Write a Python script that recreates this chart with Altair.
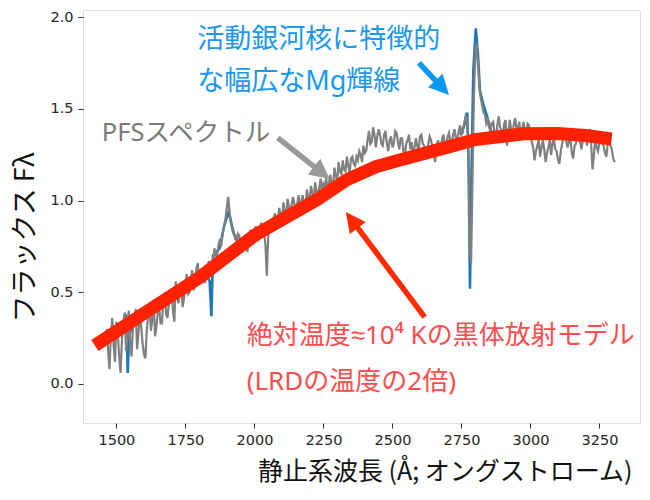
import math
import altair as alt
import pandas as pd

# PFS spectrum: rest-frame wavelength grid (Å) and flux
pfs_start, pfs_step = 1465, 5
pfs_flux = [
    0.30, 0.18, 0.08, 0.27, 0.36, 0.21, 0.12, 0.34, 0.28, 0.15, 0.06, 0.24, 0.33, 0.39, 0.18, 0.26, 0.40, 0.22, 0.15, 0.31,
    0.34, 0.41, 0.19, 0.28, 0.40, 0.31, 0.22, 0.16, 0.14, 0.29, 0.37, 0.43, 0.29, 0.35, 0.46, 0.26, 0.31, 0.39, 0.42, 0.33,
    0.33, 0.45, 0.50, 0.38, 0.36, 0.44, 0.47, 0.52, 0.40, 0.34, 0.56, 0.48, 0.44, 0.51, 0.53, 0.42, 0.47, 0.55, 0.60, 0.49,
    0.50, 0.58, 0.62, 0.51, 0.54, 0.63, 0.66, 0.57, 0.56, 0.61, 0.63, 0.55, 0.58, 0.64, 0.67, 0.60, 0.61, 0.66, 0.74, 0.70,
    0.70, 0.76, 0.79, 0.75, 0.82, 0.86, 0.90, 0.96, 1.02, 0.94, 0.88, 0.84, 0.83, 0.79, 0.78, 0.82, 0.81, 0.76, 0.74, 0.79,
    0.80, 0.75, 0.72, 0.81, 0.84, 0.78, 0.77, 0.83, 0.86, 0.80, 0.79, 0.85, 0.88, 0.81, 0.82, 0.76, 0.59, 0.80, 0.87, 0.90,
    0.84, 0.91, 0.93, 0.86, 0.89, 0.96, 0.92, 0.89, 0.99, 0.94, 0.92, 1.01, 0.97, 0.94, 0.98, 1.02, 0.98, 0.93, 0.98, 1.03,
    0.93, 1.00, 1.03, 0.97, 0.96, 1.06, 1.02, 0.99, 1.08, 1.04, 1.01, 1.10, 1.05, 1.03, 1.07, 1.12, 1.04, 1.09, 1.07, 1.13,
    1.04, 1.10, 1.14, 1.08, 1.09, 1.18, 1.13, 1.11, 1.21, 1.16, 1.14, 1.22, 1.17, 1.16, 1.24, 1.19, 1.15, 1.23, 1.24, 1.20,
    1.19, 1.24, 1.22, 1.27, 1.25, 1.21, 1.30, 1.26, 1.27, 1.33, 1.38, 1.31, 1.32, 1.40, 1.36, 1.29, 1.35, 1.39, 1.36, 1.31,
    1.30, 1.36, 1.38, 1.31, 1.27, 1.33, 1.35, 1.29, 1.31, 1.38, 1.37, 1.32, 1.28, 1.34, 1.34, 1.27, 1.25, 1.31, 1.33, 1.36,
    1.28, 1.32, 1.22, 1.29, 1.34, 1.30, 1.27, 1.35, 1.36, 1.31, 1.30, 1.26, 1.24, 1.31, 1.35, 1.33, 1.29, 1.25, 1.21, 1.30,
    1.33, 1.29, 1.26, 1.34, 1.36, 1.30, 1.29, 1.35, 1.37, 1.32, 1.31, 1.36, 1.39, 1.34, 1.33, 1.38, 1.41, 1.36, 1.37, 1.42,
    1.46, 1.44, 1.30, 0.78, 0.66, 1.10, 1.55, 1.78, 1.86, 1.74, 1.62, 1.56, 1.52, 1.48, 1.47, 1.42, 1.44, 1.40, 1.38, 1.42,
    1.43, 1.37, 1.34, 1.41, 1.46, 1.40, 1.38, 1.35, 1.42, 1.44, 1.30, 1.37, 1.44, 1.39, 1.36, 1.42, 1.45, 1.38, 1.40, 1.43,
    1.33, 1.38, 1.43, 1.36, 1.37, 1.42, 1.41, 1.35, 1.32, 1.29, 1.22, 1.27, 1.30, 1.33, 1.24, 1.29, 1.33, 1.28, 1.21, 1.26,
    1.29, 1.33, 1.25, 1.31, 1.34, 1.28, 1.27, 1.22, 1.20, 1.27, 1.31, 1.35, 1.37, 1.32, 1.29, 1.33, 1.34, 1.26, 1.23, 1.30,
    1.31, 1.36, 1.38, 1.32, 1.28, 1.33, 1.35, 1.39, 1.30, 1.36, 1.39, 1.31, 1.17, 1.25, 1.33, 1.29, 1.27, 1.32, 1.36, 1.31,
    1.30, 1.26, 1.24, 1.31, 1.35, 1.30, 1.28, 1.23, 1.21,
]
pfs_wave = [pfs_start + pfs_step * i for i in range(len(pfs_flux))]

# blue curve, only visible around the emission / absorption features
blue_seg = ["civ"] * 5 + ["ciii"] * 11 + ["mgii"] * 15
blue_wave = [1530, 1536, 1541, 1547, 1555,
             1825, 1838, 1844, 1850, 1862, 1874, 1890, 1907, 1925, 1943, 1955,
             2745, 2760, 2771, 2776, 2781, 2786, 2793, 2802, 2810, 2817,
             2830, 2841, 2850, 2859, 2870]
blue_flux = [0.30, 0.38, 0.06, 0.32, 0.28,
             0.60, 0.56, 0.37, 0.70, 0.72, 0.74, 0.86, 0.94, 0.82, 0.78, 0.79,
             1.36, 1.41, 1.48, 1.20, 0.52, 1.10, 1.70, 1.94, 1.80, 1.60,
             1.52, 1.47, 1.42, 1.37, 1.38]

# blackbody model (T ~ 1e4 K)
bb_wave = [1422, 1600, 1800, 2000, 2100, 2225, 2334, 2440, 2527, 2700,
           2800, 2974, 3100, 3200, 3294]
bb_flux = [0.21, 0.385, 0.58, 0.81, 0.896, 1.004, 1.113, 1.185, 1.222, 1.292,
           1.333, 1.365, 1.366, 1.355, 1.336]

# annotations
note_text = ["活動銀河核に特徴的", "な幅広なMg輝線", "PFSスペクトル",
             "絶対温度≈10⁴ Kの黒体放射モデル", "(LRDの温度の2倍)"]
note_x = [1793, 1793, 1447, 1972, 1972]
note_y = [1.879, 1.647, 1.369, 0.262, 0.011]
note_size = [27, 27, 25.5, 26, 26]
note_color = ["#1a98f2", "#1a98f2", "#7a7a7a", "#ff4d4d", "#ff4d4d"]

arrow_tail_x = [2596, 2085, 2617]
arrow_tail_y = [1.751, 1.342, 0.365]
arrow_tip_x = [2705, 2273, 2331]
arrow_tip_y = [1.576, 1.118, 0.938]
arrow_color = ["#0a98f5", "#999999", "#ff2a00"]

X_DOM = [1379, 3397]
Y_DOM = [-0.213, 2.04]
W, H = 557, 413
HEAD = 20
JP = "Noto Sans, Liberation Sans, Noto Sans CJK JP"

kx = W / (X_DOM[1] - X_DOM[0])
ky = H / (Y_DOM[1] - Y_DOM[0])
rows = []
for tx, ty, hx, hy, c in zip(arrow_tail_x, arrow_tail_y, arrow_tip_x, arrow_tip_y, arrow_color):
    dx, dy = (hx - tx) * kx, -(hy - ty) * ky
    L = math.hypot(dx, dy)
    f = (L - HEAD * 0.7) / L
    rows.append(dict(x=tx, y=ty, x2=tx + f * (hx - tx), y2=ty + f * (hy - ty),
                     hx=hx, hy=hy, angle=math.degrees(math.atan2(dx, -dy)) % 360, color=c))
arrows = pd.DataFrame(rows)

pfs = pd.DataFrame({"x": pfs_wave, "y": pfs_flux})
blue = pd.DataFrame({"x": blue_wave, "y": blue_flux, "seg": blue_seg})
bb = pd.DataFrame({"x": bb_wave, "y": bb_flux})
notes = pd.DataFrame({"x": note_x, "y": note_y, "t": note_text,
                      "s": note_size, "c": note_color})

xsc = alt.Scale(domain=X_DOM, nice=False, zero=False)
ysc = alt.Scale(domain=Y_DOM, nice=False, zero=False)
xax = alt.Axis(values=[1500, 1750, 2000, 2250, 2500, 2750, 3000, 3250], format="d",
               title="静止系波長 (Å; オングストローム)", grid=False, domain=False,
               labelFont="DejaVu Sans", labelFontSize=14.5, labelColor="#262626",
               labelPadding=5, tickSize=5, tickColor="#333",
               titleFont="Noto Sans CJK JP", titleFontSize=25, titleFontWeight="normal",
               titleColor="#111", titleAlign="right", titleBaseline="middle",
               titleX=549, titleY=48)
yax = alt.Axis(values=[0, 0.5, 1.0, 1.5, 2.0], format=".1f",
               title="フラックス Fλ", grid=False, domain=False,
               labelFont="DejaVu Sans", labelFontSize=14.5, labelColor="#262626",
               labelPadding=5, tickSize=5, tickColor="#333",
               titleFont="Noto Sans CJK JP", titleFontSize=27, titleFontWeight="normal",
               titleColor="#111", titleAngle=270, titleAlign="center",
               titleBaseline="middle", titleX=-58, titleY=227)

X = alt.X("x:Q", scale=xsc, axis=xax)
Y = alt.Y("y:Q", scale=ysc, axis=yax)

blue_line = alt.Chart(blue).mark_line(color="#1f77b4", strokeWidth=2.6).encode(
    X, Y, detail="seg:N", order="x:Q")
gray_line = alt.Chart(pfs).mark_line(color="#808080", strokeWidth=2.2).encode(X, Y)
bb_line = alt.Chart(bb).mark_line(color="#ff2200", strokeWidth=13, strokeCap="butt").encode(X, Y)

shafts = alt.Chart(arrows).mark_rule(strokeWidth=5.5).encode(
    X, Y, x2="x2:Q", y2="y2:Q", color=alt.Color("color:N", scale=None))
heads = alt.Chart(arrows).mark_point(
    shape="M0,0L0.5,1L-0.5,1Z", filled=True, size=(2 * HEAD) ** 2, opacity=1
).encode(
    alt.X("hx:Q", scale=xsc, axis=xax), alt.Y("hy:Q", scale=ysc, axis=yax),
    angle=alt.Angle("angle:Q", scale=None), color=alt.Color("color:N", scale=None))

labels = alt.Chart(notes).mark_text(align="left", baseline="middle", font=JP).encode(
    X, Y, text="t:N", size=alt.Size("s:Q", scale=None),
    color=alt.Color("c:N", scale=None))

chart = alt.layer(blue_line, gray_line, bb_line, shafts, heads, labels).properties(
    width=W, height=H, autosize=alt.AutoSizeParams(type="none"),
    padding={"left": 75, "top": 2, "right": 2, "bottom": 69}
).configure_view(stroke="#333", strokeWidth=1.2).configure(background="white")

chart.save("out.html", embed_options={"renderer": "svg", "actions": False})
